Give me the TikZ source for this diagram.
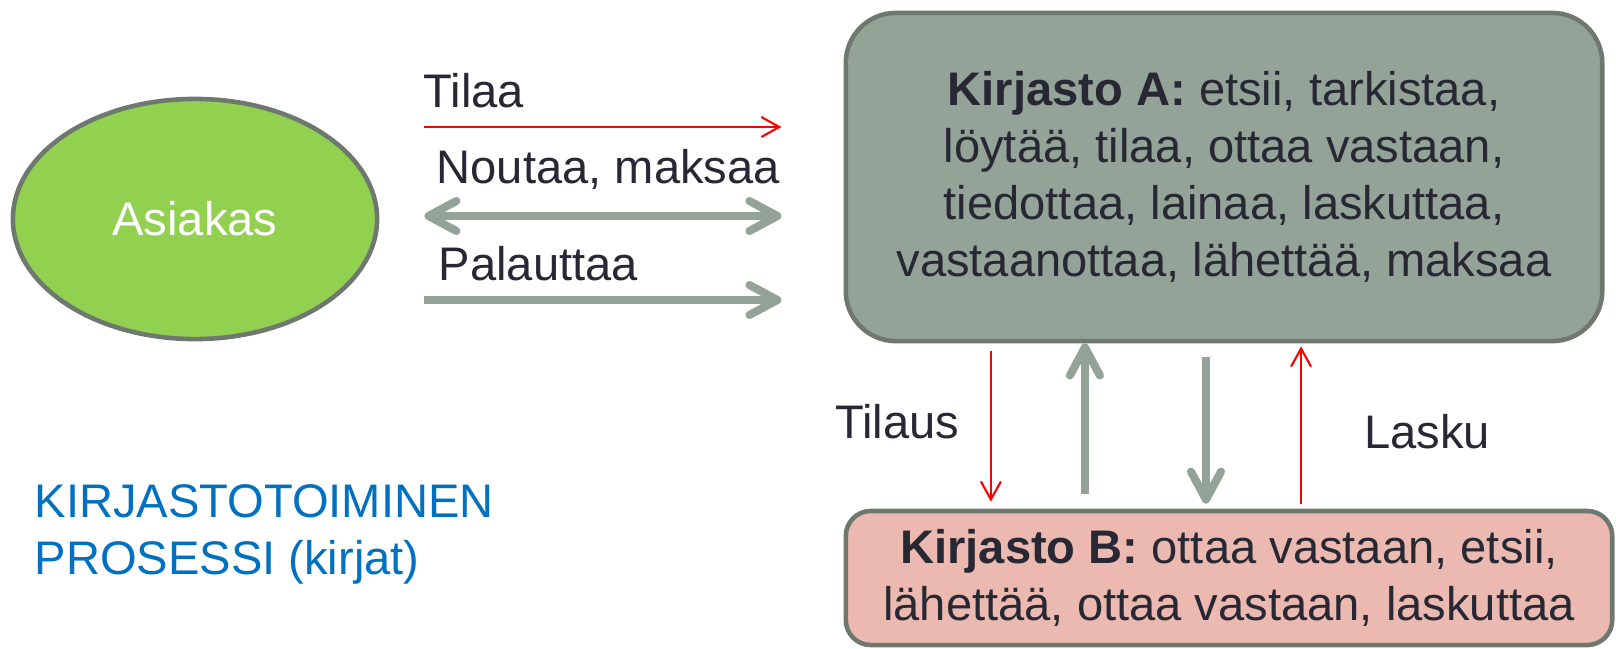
\documentclass[tikz,border=0pt]{standalone}
\usepackage{fontspec}
\setmainfont{Liberation Sans}
\usetikzlibrary{arrows.meta}
\usetikzlibrary{positioning}
\usetikzlibrary{shapes.geometric}

\definecolor{textgrey}{RGB}{40,40,52}
\definecolor{edgegrey}{RGB}{110,120,110}
\definecolor{sage}{RGB}{148,163,152}
\definecolor{leafgreen}{RGB}{146,208,80}
\definecolor{rose}{RGB}{235,185,176}
\definecolor{titleblue}{RGB}{0,112,192}

\tikzset{
    txt/.style={font=\fontsize{13.4pt}{16.2pt}\selectfont, text=textgrey, inner sep=0pt},
    redarrow/.style={draw=red, line width=0.6pt, -{Straight Barb[length=0.18cm, width=0.2cm]}},
    greyarrow/.style={draw=sage, line width=2.3pt, -{Straight Barb[length=0.28cm, width=0.3cm, round]}},
    greyboth/.style={greyarrow, {Straight Barb[length=0.28cm, width=0.3cm, round]}-{Straight Barb[length=0.28cm, width=0.3cm, round]}},
    box/.style={txt, draw=edgegrey, line width=1.3pt, align=center}
}

\begin{document}
\begin{tikzpicture}[x=0.01cm, y=-0.01cm]
    \useasboundingbox (0,0) rectangle (1616,648);

    % Customer
    \node[ellipse, draw=edgegrey, line width=1.3pt, fill=leafgreen,
        minimum width=3.64cm, minimum height=2.4cm, inner sep=0pt,
        font=\fontsize{13.4pt}{16.2pt}\selectfont, text=white] (asiakas) at (195,219) {Asiakas};

    % Libraries
    \node[box, fill=sage, rounded corners=0.5cm,
        minimum width=7.56cm, minimum height=3.28cm] (kirjA) at (1224,177)
        {\textbf{Kirjasto A:} etsii, tarkistaa,\\
         löytää, tilaa, ottaa vastaan,\\
         tiedottaa, lainaa, laskuttaa,\\
         vastaanottaa, lähettää, maksaa};
    \node[box, fill=rose, rounded corners=0.25cm,
        minimum width=7.66cm, minimum height=1.34cm] (kirjB) at (1229,578)
        {\textbf{Kirjasto B:} ottaa vastaan, etsii,\\
         lähettää, ottaa vastaan, laskuttaa};

    % Customer <-> library A
    \draw[redarrow, shorten <=0.45cm, shorten >=0.62cm]
        (asiakas.east |- 0,127) -- (kirjA.west |- 0,127);
    \draw[greyboth, shorten <=0.45cm, shorten >=0.62cm]
        (asiakas.east |- 0,216) -- (kirjA.west |- 0,216);
    \draw[greyarrow, shorten <=0.45cm, shorten >=0.62cm]
        (asiakas.east |- 0,300) -- (kirjA.west |- 0,300);
    \node[txt, anchor=base west] (tilaa) at (423,107) {Tilaa};
    \node[txt, anchor=base west] (noutaa) at (436,183) {Noutaa, maksaa};
    \node[txt, anchor=base west] (palauttaa) at (438,280) {Palauttaa};

    % Library A <-> library B
    \draw[redarrow, shorten <=0.08cm, shorten >=0.07cm]
        ([xshift=-2.33cm]kirjA.south) -- ([xshift=-2.33cm]kirjA.south |- kirjB.north);
    \draw[greyarrow, shorten <=0.15cm]
        ([xshift=-1.39cm]kirjA.south |- kirjB.north) -- ([xshift=-1.39cm]kirjA.south);
    \draw[greyarrow, shorten <=0.14cm, shorten >=0.05cm]
        ([xshift=-0.18cm]kirjA.south) -- ([xshift=-0.18cm]kirjA.south |- kirjB.north);
    \draw[redarrow, shorten <=0.05cm, shorten >=0.03cm]
        ([xshift=0.77cm]kirjA.south |- kirjB.north) -- ([xshift=0.77cm]kirjA.south);
    \node[txt, anchor=base] (tilaus) at (897,438) {Tilaus};
    \node[txt, anchor=base] (lasku) at (1427,448) {Lasku};

    % Title
    \node[txt, text=titleblue, anchor=base west, align=left] (otsikko) at (34,574)
        {KIRJASTOTOIMINEN\\PROSESSI (kirjat)};
\end{tikzpicture}
\end{document}
